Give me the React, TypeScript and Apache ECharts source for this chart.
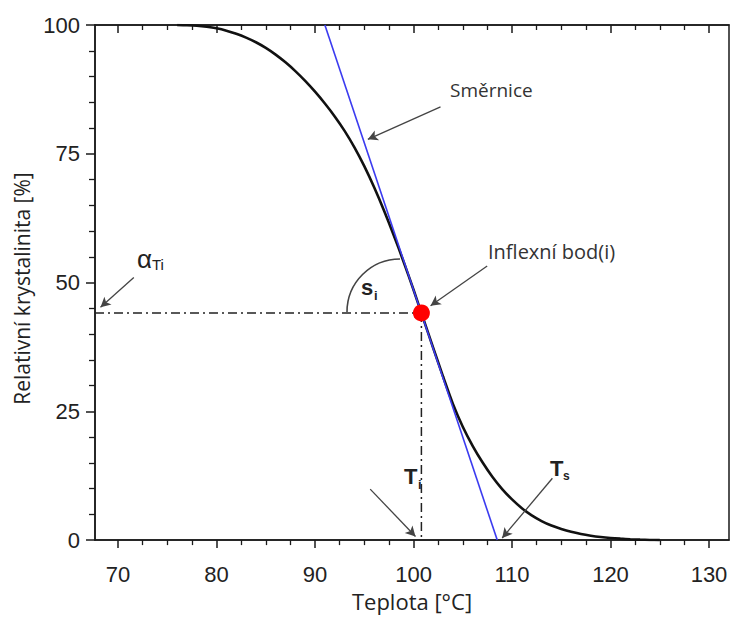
import React, { useEffect, useRef } from "react";
import * as echarts from "echarts";

// Crystallinity curve (°C, %)
const curveX = [76, 77, 78, 79, 80, 81, 82, 83, 84, 85, 86, 87, 88, 89, 90, 91, 92, 93, 94, 95, 96, 97, 98, 99, 100, 101, 102, 103, 104, 105, 106, 107, 108, 109, 110, 111, 112, 113, 114, 115, 116, 117, 118, 119, 120, 121, 122, 123, 124, 125];
const curveY = [100, 99.95, 99.85, 99.65, 99.35, 98.9, 98.3, 97.55, 96.65, 95.55, 94.25, 92.75, 91.05, 89.15, 87.05, 84.75, 82.25, 79.45, 76.25, 72.6, 68.5, 64.0, 59.15, 54.0, 48.6, 42.95, 37.3, 31.75, 26.45, 22.0, 18.3, 15.1, 12.3, 9.9, 7.9, 6.2, 4.8, 3.7, 2.82, 2.15, 1.6, 1.18, 0.86, 0.61, 0.42, 0.28, 0.17, 0.09, 0.03, 0];

// Tangent (Směrnice) end points
const tangentX = [91.0, 108.5];
const tangentY = [100, 0];

// Inflection point
const inflection = [100.8, 44.1];

// Axis ticks
const xMin = 67.66;
const xMax = 132.03;
const xMajorTicks = [70, 80, 90, 100, 110, 120, 130];
const xMinorTicks = [72.5, 75, 77.5, 82.5, 85, 87.5, 92.5, 95, 97.5, 102.5, 105, 107.5, 112.5, 115, 117.5, 122.5, 125, 127.5];

// Annotation arrows [fromX, fromY, toX, toY]
const arrowSmernice = [102.74, 84.1, 95.36, 77.8];
const arrowInflexni = [107.48, 53.2, 101.73, 45.5];
const arrowAlpha = [71.6, 51.0, 68.22, 45.2];
const arrowTi = [95.6, 9.9, 100.2, 0.7];
const arrowTs = [114.1, 12.0, 109.0, 0.4];

const tickFont = '"Liberation Sans", Arial, sans-serif';
const textFont = '"Open Sans", "Noto Sans", sans-serif';

export default function App() {
  const ref = useRef<HTMLDivElement>(null);
  useEffect(() => {
    if (!ref.current) return;
    const chart = echarts.init(ref.current, null, { renderer: "svg" });
    const axisLine = { show: true, lineStyle: { color: "#1a1a1a", width: 1.5 } };
    const arrows = [arrowSmernice, arrowInflexni, arrowAlpha, arrowTi, arrowTs];
    const option: any = {
      animation: false,
      backgroundColor: "#ffffff",
      grid: { left: 95, right: 2, top: 25, bottom: 75, show: true, borderColor: "#1a1a1a", borderWidth: 1.5, backgroundColor: "transparent" },
      xAxis: [
        {
          type: "value", position: "bottom", min: xMin, max: xMax,
          axisLine,
          axisTick: { show: true, inside: false, length: 8, customValues: xMajorTicks, lineStyle: { color: "#1a1a1a", width: 1.5 } },
          axisLabel: { show: true, customValues: xMajorTicks, margin: 23, fontSize: 22, fontFamily: tickFont, color: "#222" },
          splitLine: { show: false },
          name: "Teplota [°C]", nameLocation: "middle", nameGap: 49,
          nameTextStyle: { fontSize: 22, fontFamily: textFont, color: "#222" },
        },
        {
          type: "value", position: "bottom", min: xMin, max: xMax,
          axisLine: { show: false },
          axisTick: { show: true, inside: false, length: 5, customValues: xMinorTicks, lineStyle: { color: "#1a1a1a", width: 1.3 } },
          axisLabel: { show: false }, splitLine: { show: false },
        },
        {
          type: "value", position: "top", min: xMin, max: xMax,
          axisLine,
          axisTick: { show: true, inside: true, length: 8, customValues: xMajorTicks, lineStyle: { color: "#1a1a1a", width: 1.5 } },
          axisLabel: { show: false }, splitLine: { show: false },
        },
        {
          type: "value", position: "top", min: xMin, max: xMax,
          axisLine: { show: false },
          axisTick: { show: true, inside: true, length: 5, customValues: xMinorTicks, lineStyle: { color: "#1a1a1a", width: 1.3 } },
          axisLabel: { show: false }, splitLine: { show: false },
        },
      ],
      yAxis: [
        {
          type: "value", min: 0, max: 100, interval: 25, position: "left",
          axisLine,
          axisTick: { show: true, inside: false, length: 9, lineStyle: { color: "#1a1a1a", width: 1.5 } },
          minorTick: { show: true, splitNumber: 5, length: 6, lineStyle: { color: "#1a1a1a", width: 1.3 } },
          axisLabel: { margin: 15, fontSize: 22, fontFamily: tickFont, color: "#222" },
          splitLine: { show: false },
          name: "Relativní krystalinita [%]", nameLocation: "middle", nameGap: 62, nameRotate: 90,
          nameTextStyle: { fontSize: 21, fontFamily: textFont, color: "#222", padding: [0, 12, 0, 0] },
        },
      ],
      series: [
        {
          type: "line", name: "curve", data: curveX.map((x, i) => [x, curveY[i]]),
          smooth: 0.3, showSymbol: false, lineStyle: { color: "#111", width: 2.6 }, z: 3,
        },
        {
          type: "line", name: "tangent", data: tangentX.map((x, i) => [x, tangentY[i]]),
          showSymbol: false, lineStyle: { color: "#3b3bf0", width: 1.6 }, z: 4,
        },
        {
          type: "line", name: "h", data: [[xMin, inflection[1]], [inflection[0], inflection[1]]],
          showSymbol: false, lineStyle: { color: "#222", width: 1.5, type: [9, 4, 2, 4] }, z: 2,
        },
        {
          type: "line", name: "v", data: [[inflection[0], inflection[1]], [inflection[0], 0]],
          showSymbol: false, lineStyle: { color: "#222", width: 1.5, type: [9, 4, 2, 4] }, z: 2,
        },
        {
          type: "scatter", name: "inflexe", data: [inflection], symbolSize: 17,
          itemStyle: { color: "#ff0000", opacity: 1 }, z: 6,
          markLine: {
            silent: true, symbol: ["none", "arrow"], symbolSize: [8, 10], animation: false,
            lineStyle: { color: "#444", width: 1.3, type: "solid" },
            label: { show: false },
            data: arrows.map((a) => [{ coord: [a[0], a[1]] }, { coord: [a[2], a[3]] }]),
          },
        },
      ],
      graphic: [
        { type: "arc", shape: { cx: 400, cy: 312, r: 53, startAngle: Math.PI, endAngle: Math.PI * 1.5, clockwise: true }, style: { stroke: "#444", lineWidth: 1.6, fill: null }, z: 5 },
        { type: "text", x: 450, y: 90, style: { text: "Směrnice", font: `19px ${textFont}`, fill: "#333", verticalAlign: "middle" }, z: 10 },
        { type: "text", x: 488, y: 251, style: { text: "Inflexní bod(i)", font: `20px ${textFont}`, fill: "#333", verticalAlign: "middle" }, z: 10 },
        { type: "text", x: 137, y: 272, style: { text: "α", font: `26px ${tickFont}`, fill: "#222", verticalAlign: "bottom" }, z: 10 },
        { type: "text", x: 152, y: 272, style: { text: "Ti", font: `15px ${tickFont}`, fill: "#222", verticalAlign: "bottom" }, z: 10 },
        { type: "text", x: 361, y: 298, style: { text: "s", font: `bold 22px ${tickFont}`, fill: "#222", verticalAlign: "bottom" }, z: 10 },
        { type: "text", x: 374, y: 302, style: { text: "i", font: `bold 13px ${tickFont}`, fill: "#222", verticalAlign: "bottom" }, z: 10 },
        { type: "text", x: 404, y: 487, style: { text: "T", font: `bold 22px ${tickFont}`, fill: "#222", verticalAlign: "bottom" }, z: 10 },
        { type: "text", x: 418, y: 491, style: { text: "i", font: `bold 13px ${tickFont}`, fill: "#222", verticalAlign: "bottom" }, z: 10 },
        { type: "text", x: 550, y: 479, style: { text: "T", font: `bold 22px ${tickFont}`, fill: "#222", verticalAlign: "bottom" }, z: 10 },
        { type: "text", x: 563, y: 482, style: { text: "s", font: `bold 12px ${tickFont}`, fill: "#222", verticalAlign: "bottom" }, z: 10 },
      ],
    };
    chart.setOption(option);
    return () => chart.dispose();
  }, []);
  return <div ref={ref} style={{ position: "fixed", left: 0, top: 0, width: 731, height: 617, background: "#fff" }} />;
}
